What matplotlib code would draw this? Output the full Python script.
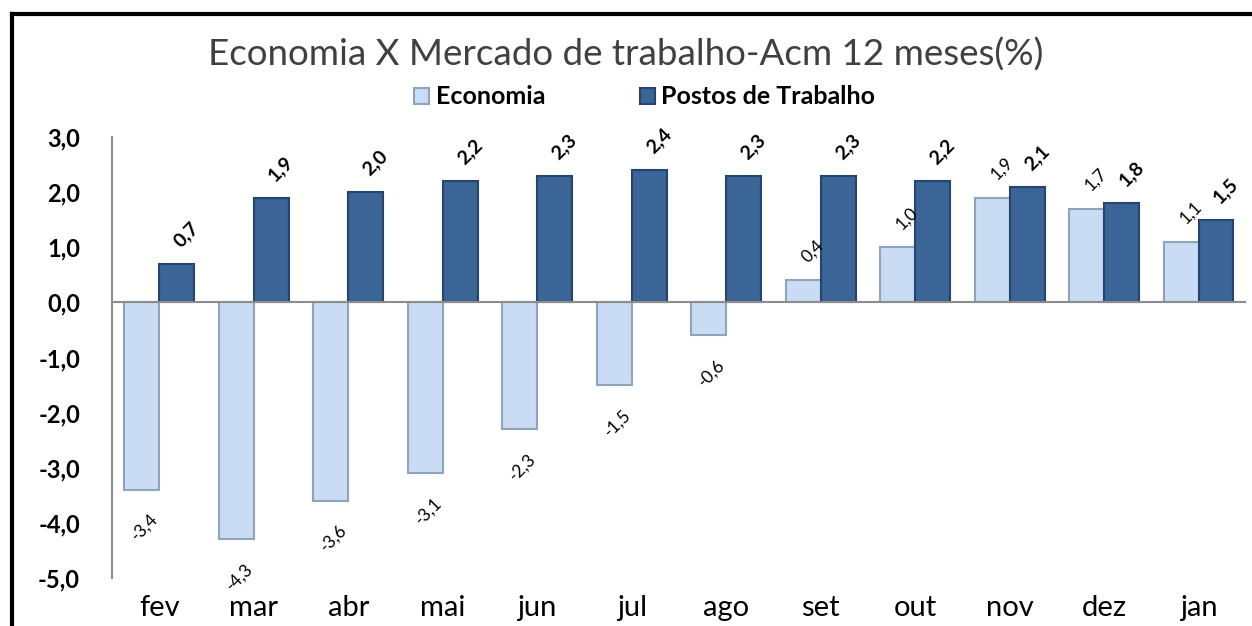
import numpy as np
import matplotlib
matplotlib.use("Agg")
import matplotlib.pyplot as plt
from matplotlib.lines import Line2D

months = ["fev", "mar", "abr", "mai", "jun", "jul", "ago", "set", "out", "nov", "dez", "jan"]
economia = [-3.4, -4.3, -3.6, -3.1, -2.3, -1.5, -0.6, 0.4, 1.0, 1.9, 1.7, 1.1]
postos = [0.7, 1.9, 2.0, 2.2, 2.3, 2.4, 2.3, 2.3, 2.2, 2.1, 1.8, 1.5]
yticks = [-5, -4, -3, -2, -1, 0, 1, 2, 3]

plt.rcParams["font.family"] = ["Lato", "DejaVu Sans"]

LIGHT, LIGHT_EDGE = "#C9DCF3", "#8FA3BD"
DARK, DARK_EDGE = "#3B6497", "#26456E"


def fmt(v):
    return f"{v:.1f}".replace(".", ",")


fig = plt.figure(figsize=(12.52, 6.26), dpi=100)
ax = fig.add_axes([0.0895, 0.0767, 0.9055, 0.7045])

x = np.arange(len(months))
w = 0.37
b1 = ax.bar(x - w / 2, economia, w, color=LIGHT, edgecolor=LIGHT_EDGE, lw=1.5,
            label="Economia", zorder=2)
b2 = ax.bar(x + w / 2, postos, w, color=DARK, edgecolor=DARK_EDGE, lw=1.5,
            label="Postos de Trabalho", zorder=2)

# data labels, rotated like the excel original
for bars, vals, bold in ((b1, economia, False), (b2, postos, True)):
    for r, v in zip(bars, vals):
        cx = r.get_x() + r.get_width() / 2
        off = (7, 21) if v >= 0 else (2, -27)
        ax.annotate(fmt(v), (cx, v), xytext=off, textcoords="offset points",
                    ha="center", va="center", rotation=45,
                    fontsize=14 if bold else 12.5,
                    fontweight="bold" if bold else "normal", color="black")

ax.axhline(0, color="#8C8C8C", lw=1.5, zorder=3)
ax.set_xlim(-0.5, len(months) - 0.5)
ax.set_ylim(-5, 3)
ax.set_yticks(yticks)
ax.set_yticklabels([fmt(t) for t in yticks], fontsize=17, fontweight="bold")
ax.set_xticks(x)
ax.set_xticklabels(months, fontsize=21)
ax.tick_params(axis="y", length=0, pad=23)
ax.tick_params(axis="x", length=0, pad=12)
for s in ("top", "right", "bottom"):
    ax.spines[s].set_visible(False)
ax.spines["left"].set_color("#8C8C8C")
ax.spines["left"].set_linewidth(1.5)

fig.text(0.5, 1 - 55 / 626, "Economia X Mercado de trabalho-Acm 12 meses(%)",
         ha="center", va="center", fontsize=26.5, color="#404040")
fig.legend(handles=[b1, b2], loc="center", bbox_to_anchor=(0.515, 1 - 97 / 626),
           ncol=2, frameon=False, handlelength=0.6, handleheight=0.6,
           handletextpad=0.25, columnspacing=3.8,
           prop={"size": 18, "weight": "bold"})

# outer chart frame (left and top edges visible)
fig.add_artist(Line2D([0.0095, 0.0095], [0, 1 - 14 / 626], color="black", lw=3,
                      transform=fig.transFigure))
fig.add_artist(Line2D([0.0095, 1], [1 - 14 / 626, 1 - 14 / 626], color="black", lw=3,
                      transform=fig.transFigure))

fig.savefig("out.png", dpi=100)
